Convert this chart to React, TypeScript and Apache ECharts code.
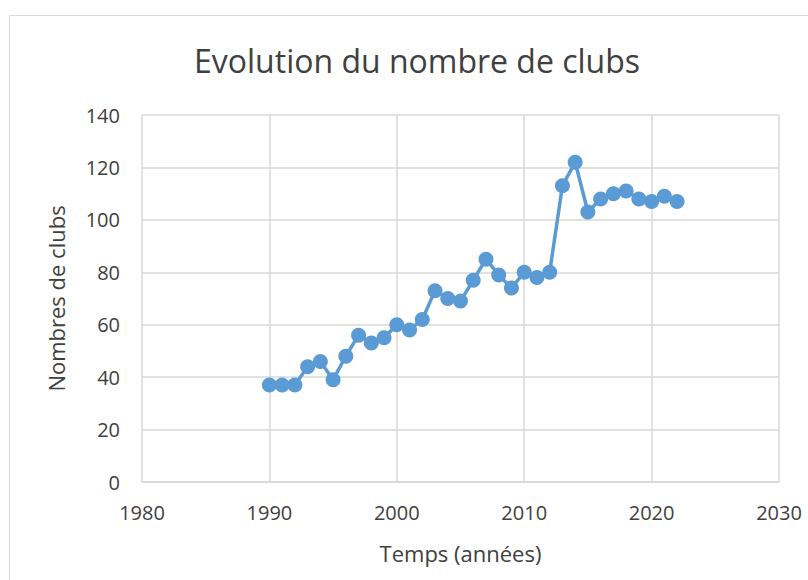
import React, { useEffect, useRef } from "react";
import * as echarts from "echarts";

const years = [1990, 1991, 1992, 1993, 1994, 1995, 1996, 1997, 1998, 1999, 2000, 2001, 2002, 2003, 2004, 2005, 2006, 2007, 2008, 2009, 2010, 2011, 2012, 2013, 2014, 2015, 2016, 2017, 2018, 2019, 2020, 2021, 2022];
const clubs = [37, 37, 37, 44, 46, 39, 48, 56, 53, 55, 60, 58, 62, 73, 70, 69, 77, 85, 79, 74, 80, 78, 80, 113, 122, 103, 108, 110, 111, 108, 107, 109, 107];

const titleText = "Evolution du nombre de clubs";
const xName = "Temps (années)";
const yName = "Nombres de clubs";

const FONT = "'Open Sans', sans-serif";
const TEXT = "#404040";

export default function App() {
  const ref = useRef<HTMLDivElement>(null);
  useEffect(() => {
    if (!ref.current) return;
    const chart = echarts.init(ref.current, undefined, { renderer: "svg" });
    const data = years.map((y, i) => [y, clubs[i]]);
    chart.setOption({
      animation: false,
      backgroundColor: "#ffffff",
      textStyle: { fontFamily: FONT },
      title: {
        text: titleText,
        left: 189,
        top: 39,
        textStyle: { fontFamily: FONT, fontSize: 32, fontWeight: "normal", color: TEXT },
      },
      graphic: [
        {
          type: "rect",
          shape: { x: 9.5, y: 15.5, width: 900, height: 700 },
          style: { fill: "none", stroke: "#d9d9d9", lineWidth: 1 },
          silent: true,
          z: 0,
        },
      ],
      grid: { left: 142, right: 29, top: 115, bottom: 98 },
      xAxis: {
        type: "value",
        min: 1980,
        max: 2030,
        interval: 10,
        name: xName,
        nameLocation: "middle",
        nameGap: 60,
        nameTextStyle: { fontFamily: FONT, fontSize: 22, color: TEXT },
        axisLine: { show: true, lineStyle: { color: "#d9d9d9", width: 1.5 } },
        axisTick: { show: false },
        axisLabel: {
          fontFamily: FONT,
          fontSize: 20,
          color: TEXT,
          margin: 20,
          formatter: (v: number) => String(v),
        },
        splitLine: { show: true, lineStyle: { color: "#d9d9d9", width: 1.5 } },
      },
      yAxis: {
        type: "value",
        min: 0,
        max: 140,
        interval: 20,
        name: yName,
        nameLocation: "middle",
        nameGap: 75,
        nameTextStyle: { fontFamily: FONT, fontSize: 22, color: TEXT },
        axisLine: { show: false },
        axisTick: { show: false },
        axisLabel: { fontFamily: FONT, fontSize: 20, color: TEXT, margin: 22 },
        splitLine: { show: true, lineStyle: { color: "#d9d9d9", width: 1.5 } },
      },
      series: [
        {
          type: "line",
          data,
          symbol: "circle",
          symbolSize: 15,
          lineStyle: { color: "#5B9BD5", width: 3.5 },
          itemStyle: { color: "#5B9BD5" },
          z: 3,
        },
      ],
    });
    return () => chart.dispose();
  }, []);
  return (
    <div
      ref={ref}
      style={{ position: "fixed", left: 0, top: 0, width: 808, height: 580 }}
    />
  );
}
